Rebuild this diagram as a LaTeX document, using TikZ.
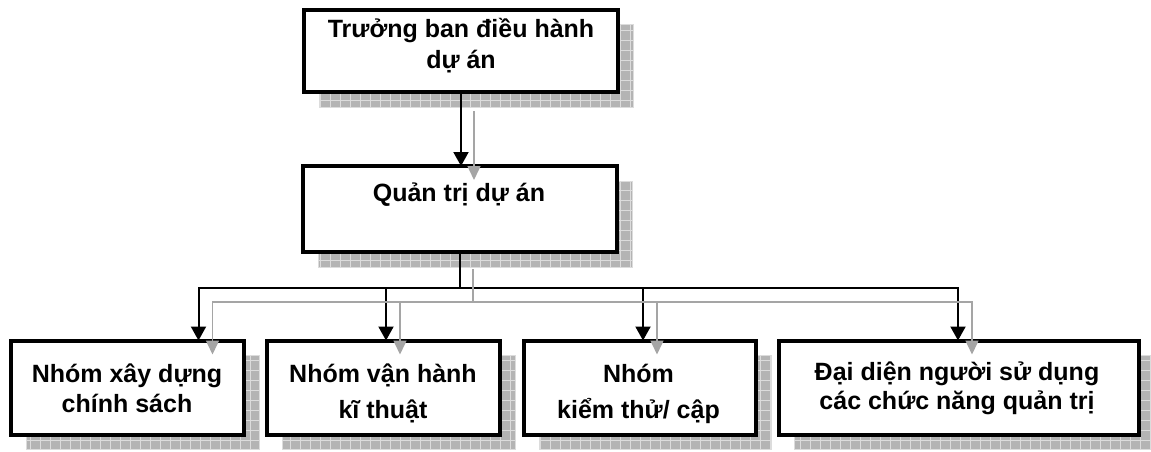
\documentclass[tikz,border=0pt]{standalone}
\usepackage{fontspec}
\setmainfont{Liberation Sans}
\usetikzlibrary{arrows.meta,calc,backgrounds}
\definecolor{shd}{RGB}{180,180,180}
\definecolor{shdgrid}{RGB}{220,220,220}
\definecolor{gconn}{RGB}{165,165,165}
\newcommand\myshadow[1]{%
  \begin{scope}
    \clip ($(#1.south west)+(15pt,-15pt)$) rectangle ($(#1.north east)+(15pt,-15pt)$);
    \fill[shd] ($(#1.south west)+(15pt,-15pt)$) rectangle ($(#1.north east)+(15pt,-15pt)$);
    \draw[shdgrid,line width=0.8pt,step=10pt] ($(#1.south west)+(15pt,-15pt)$) grid ($(#1.north east)+(15pt,-15pt)$);
  \end{scope}
  \draw[shdgrid,line width=1pt] ($(#1.south west)+(15pt,-15pt)$) rectangle ($(#1.north east)+(15pt,-15pt)$);
}
\begin{document}
\begin{tikzpicture}[x=1pt,y=-1pt,
  box/.style={draw=black,line width=4pt,fill=white,rectangle,inner sep=0pt,outer sep=0pt},
  txt/.style={anchor=base,inner sep=0pt,font=\fontsize{25}{30}\bfseries\selectfont},
  conn/.style={draw=black,line width=2pt},
  arr/.style={conn,-{Triangle[width=15pt,length=14pt]}},
  sconn/.style={draw=gconn,line width=1.5pt,-{Triangle[width=13pt,length=14pt]}},
]
\useasboundingbox (0,0) rectangle (1151,452);

% boxes
\node[box,minimum width=314pt,minimum height=82pt] (top) at (461,51) {};
\node[box,minimum width=314pt,minimum height=86pt] (qt) at (460,209) {};
\node[box,minimum width=233pt,minimum height=94pt] (b1) at (127.5,387.5) {};
\node[box,minimum width=233pt,minimum height=94pt] (b2) at (383.5,387.5) {};
\node[box,minimum width=232pt,minimum height=94pt] (b3) at (640,387.5) {};
\node[box,minimum width=360pt,minimum height=94pt] (b4) at (959,387.5) {};

% shadows
\begin{scope}[on background layer]
  \fill[white] (0,0) rectangle (1151,452);
  \myshadow{top}
  \myshadow{qt}
  \myshadow{b1}
  \myshadow{b2}
  \myshadow{b3}
  \myshadow{b4}
\end{scope}

% texts
\node[txt] (ttop1) at (461,38) {Trưởng ban điều hành};
\node[txt] (ttop2) at (461,68) {dự án};
\node[txt] (tqt) at (459,201) {Quản trị dự án};
\node[txt] (tb1a) at (127,382) {Nhóm xây dựng};
\node[txt] (tb1b) at (127,412) {chính sách};
\node[txt] (tb2a) at (383,382) {Nhóm vận hành};
\node[txt] (tb2b) at (383,418) {kĩ thuật};
\node[txt] (tb3a) at (638.5,382) {Nhóm};
\node[txt] (tb3b) at (638.5,418) {kiểm thử/ cập};
\node[txt] (tb4a) at (957,380) {Đại diện người sử dụng};
\node[txt] (tb4b) at (957,409) {các chức năng quản trị};

% black connectors
\draw[arr] (top.south) -- (top.south |- qt.north);
\draw[arr] (qt.south) -- ++(0,36) -| ([xshift=71pt]b1.north);
\draw[arr] (qt.south) -- ++(0,36) -| ([xshift=2.5pt]b2.north);
\draw[arr] (qt.south) -- ++(0,36) -| ([xshift=3pt]b3.north);
\draw[arr] (qt.south) -- ++(0,36) -| ([xshift=-1pt]b4.north);

% shadow connectors
\coordinate (tq) at (top.south |- qt.north);
\draw[sconn] ($(top.south)+(13pt,-19pt)$) -- ($(tq)+(13pt,-14pt)$);
\draw[sconn] ($(qt.south)+(13pt,-17pt)$) -- ++(0,33) -| ($([xshift=71pt]b1.north)+(14pt,-14pt)$);
\draw[sconn] ($(qt.south)+(13pt,-17pt)$) -- ++(0,33) -| ($([xshift=2.5pt]b2.north)+(14pt,-14pt)$);
\draw[sconn] ($(qt.south)+(13pt,-17pt)$) -- ++(0,33) -| ($([xshift=3pt]b3.north)+(14pt,-14pt)$);
\draw[sconn] ($(qt.south)+(13pt,-17pt)$) -- ++(0,33) -| ($([xshift=-1pt]b4.north)+(14pt,-14pt)$);
\end{tikzpicture}
\end{document}
